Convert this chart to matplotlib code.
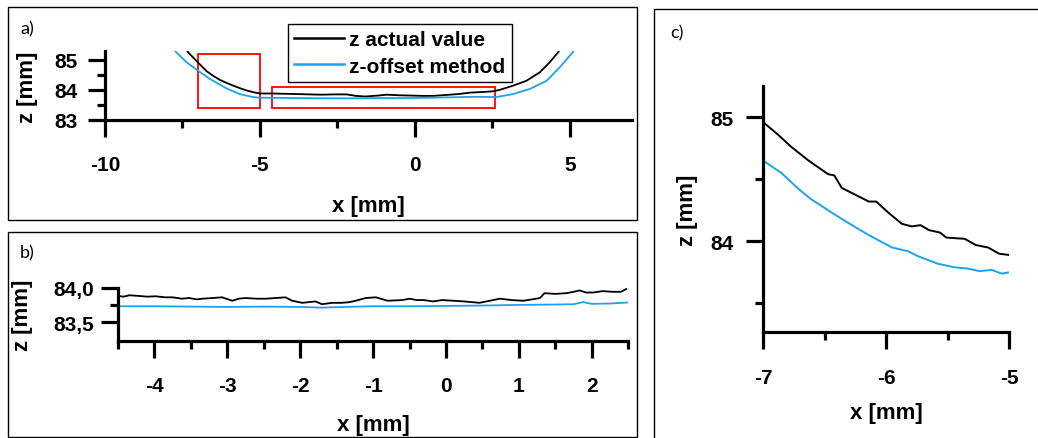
import matplotlib
matplotlib.use("Agg")
import matplotlib.pyplot as plt
from matplotlib.patches import Rectangle
from matplotlib.ticker import MultipleLocator, FixedLocator, FixedFormatter

# ---------------- data ----------------
# panel a: full profile
a_black_x = [-7.45, -7.31, -6.99, -6.72, -6.50, -6.29, -6.05, -5.86, -5.63, -5.43, -5.20, -5.0,
             -4.6, -4.2, -3.8, -3.4, -3.0, -2.6, -2.2, -1.9, -1.6, -1.2, -0.9, -0.5, -0.1,
             0.3, 0.6, 1.0, 1.4, 1.8, 2.2, 2.5, 2.74, 3.17, 3.6, 4.03, 4.35, 4.62, 4.70]
a_black_z = [85.45, 85.24, 84.90, 84.62, 84.46, 84.33, 84.22, 84.14, 84.05, 83.98, 83.92, 83.88,
             83.88, 83.87, 83.86, 83.85, 83.84, 83.85, 83.85, 83.80, 83.78, 83.81, 83.84, 83.82, 83.81,
             83.80, 83.80, 83.83, 83.86, 83.91, 83.93, 83.95, 84.00, 84.14, 84.30, 84.58, 84.91, 85.24, 85.36]
a_blue_x = [-7.90, -7.69, -7.36, -6.99, -6.61, -6.08, -5.65, -5.22, -5.0, -4.0, -3.0, -2.0,
            -1.0, 0.0, 1.0, 2.0, 2.63, 3.17, 3.71, 4.25, 4.68, 5.09, 5.15]
a_blue_z = [85.50, 85.24, 84.91, 84.63, 84.36, 84.05, 83.86, 83.76, 83.74, 83.73, 83.72, 83.72,
            83.73, 83.73, 83.75, 83.77, 83.76, 83.86, 84.03, 84.30, 84.75, 85.24, 85.34]

# panel b: detail of the flat part
b_black_x = [-4.5, -4.42, -4.34, -4.21, -4.10, -3.98, -3.85, -3.75, -3.62, -3.52, -3.42, -3.34,
             -3.20, -3.07, -2.93, -2.84, -2.75, -2.60, -2.47, -2.33, -2.20, -2.11, -1.97, -1.88,
             -1.79, -1.70, -1.56, -1.43, -1.32, -1.24, -1.10, -0.96, -0.80, -0.60, -0.50, -0.40,
             -0.30, -0.18, -0.05, 0.10, 0.25, 0.46, 0.60, 0.74, 0.90, 1.06, 1.18, 1.29, 1.35,
             1.50, 1.65, 1.75, 1.83, 1.92, 2.02, 2.15, 2.29, 2.40, 2.47]
b_black_z = [83.88, 83.87, 83.89, 83.88, 83.87, 83.875, 83.86, 83.86, 83.84, 83.85, 83.83, 83.84,
             83.85, 83.86, 83.81, 83.84, 83.85, 83.84, 83.84, 83.85, 83.86, 83.81, 83.78, 83.79,
             83.80, 83.76, 83.78, 83.78, 83.79, 83.81, 83.85, 83.86, 83.81, 83.82, 83.84, 83.82,
             83.82, 83.80, 83.82, 83.81, 83.80, 83.78, 83.81, 83.84, 83.82, 83.81, 83.83, 83.85, 83.92,
             83.91, 83.92, 83.94, 83.96, 83.93, 83.93, 83.95, 83.94, 83.94, 83.98]
b_blue_x = [-4.5, -4.0, -3.5, -3.0, -2.5, -2.0, -1.7, -1.4, -1.0, -0.5, 0.0, 0.5, 1.0, 1.5,
            1.75, 1.88, 2.0, 2.25, 2.5]
b_blue_z = [83.73, 83.73, 83.725, 83.72, 83.725, 83.72, 83.71, 83.72, 83.73, 83.73, 83.735, 83.74,
            83.75, 83.755, 83.76, 83.79, 83.765, 83.77, 83.785]

# panel c: detail of the slope
c_black_x = [-7.0, -6.88, -6.77, -6.63, -6.47, -6.42, -6.36, -6.28, -6.14, -6.08, -5.98, -5.87,
             -5.79, -5.72, -5.65, -5.56, -5.51, -5.36, -5.27, -5.17, -5.08, -5.0]
c_black_z = [84.96, 84.86, 84.76, 84.65, 84.54, 84.53, 84.43, 84.39, 84.32, 84.32, 84.23, 84.14,
             84.12, 84.13, 84.09, 84.07, 84.03, 84.02, 83.97, 83.95, 83.90, 83.89]
c_blue_x = [-7.0, -6.85, -6.71, -6.61, -6.44, -6.31, -6.14, -5.95, -5.82, -5.74, -5.58, -5.44,
            -5.33, -5.24, -5.14, -5.06, -5.0]
c_blue_z = [84.65, 84.55, 84.42, 84.34, 84.23, 84.15, 84.05, 83.95, 83.92, 83.88, 83.82, 83.79,
            83.78, 83.76, 83.77, 83.74, 83.75]

legend_labels = ["z actual value", "z-offset method"]
b_ytick_vals = [83.5, 84.0]
b_ytick_labels = ["83,5", "84,0"]

# ---------------- style ----------------
W, H = 1038, 439
BLUE = "#1ba3ee"
plt.rcParams["font.family"] = ["Liberation Sans Narrow", "Liberation Sans", "DejaVu Sans"]
plt.rcParams["font.weight"] = "bold"
plt.rcParams["axes.unicode_minus"] = False

fig = plt.figure(figsize=(W / 100, H / 100), dpi=100)


def px_box(x0, x1, ytop, ybot):
    return [x0 / W, 1 - ybot / H, (x1 - x0) / W, (ybot - ytop) / H]


def style_axes(ax, xpad, ypad):
    for s in ["top", "right"]:
        ax.spines[s].set_visible(False)
    for s in ["left", "bottom"]:
        ax.spines[s].set_linewidth(2.3)
    ax.tick_params(which="major", direction="out", length=12, width=2.3, labelsize=15)
    ax.tick_params(which="minor", direction="out", length=5.8, width=2.3)
    ax.tick_params(axis="x", which="major", pad=xpad)
    ax.tick_params(axis="y", which="major", pad=ypad)
    for lab in ax.get_xticklabels() + ax.get_yticklabels():
        lab.set_fontweight("bold")


# panel frames
for (x0, y0, x1, y1) in [(8, 8, 637, 221), (8, 233, 637, 438), (654, 10, 1045, 445)]:
    fig.patches.append(Rectangle((x0 / W, 1 - y1 / H), (x1 - x0) / W, (y1 - y0) / H,
                                 transform=fig.transFigure, fill=False,
                                 edgecolor="black", linewidth=1.0))

# ---------------- panel a ----------------
ax_a = fig.add_axes(px_box(105, 631.7, 52, 121))
ax_a.plot(a_black_x, a_black_z, color="black", lw=1.3)
ax_a.plot(a_blue_x, a_blue_z, color=BLUE, lw=1.3)
ax_a.set_xlim(-10, 7)
ax_a.set_ylim(83, 85.29)
ax_a.xaxis.set_major_locator(MultipleLocator(5))
ax_a.xaxis.set_minor_locator(MultipleLocator(2.5))
ax_a.yaxis.set_major_locator(MultipleLocator(1))
ax_a.yaxis.set_minor_locator(MultipleLocator(0.5))
style_axes(ax_a, 13, 8)
ax_a.add_patch(Rectangle((-7.0, 83.4), 2.0, 1.8, fill=False, edgecolor="red", lw=1.3, clip_on=False))
ax_a.add_patch(Rectangle((-4.6, 83.4), 7.2, 0.68, fill=False, edgecolor="red", lw=1.3, clip_on=False))
ax_a.set_xlabel("x [mm]", fontsize=16, fontweight="bold")
ax_a.set_ylabel("z [mm]", fontsize=16, fontweight="bold")
ax_a.xaxis.set_label_coords(368 / W, 1 - 196 / H, transform=fig.transFigure)
ax_a.yaxis.set_label_coords(38 / W, 1 - 87 / H, transform=fig.transFigure)
h1, = ax_a.plot([], [], color="black", lw=1.8)
h2, = ax_a.plot([], [], color=BLUE, lw=1.8)
leg = ax_a.legend([h1, h2], legend_labels, loc="upper left",
                  bbox_to_anchor=(288 / W, 1 - 25 / H), bbox_transform=fig.transFigure,
                  borderaxespad=0, borderpad=0.3, handlelength=2.4, handletextpad=0.25,
                  labelspacing=0.35, frameon=True, fancybox=False, framealpha=1,
                  prop=dict(family=["Liberation Sans Narrow", "Liberation Sans"], weight="bold", size=15))
leg.get_frame().set_edgecolor("black")
leg.get_frame().set_linewidth(1.0)

# ---------------- panel b ----------------
ax_b = fig.add_axes(px_box(117.8, 628.3, 288.7, 342.3))
ax_b.plot(b_black_x, b_black_z, color="black", lw=1.3)
ax_b.plot(b_blue_x, b_blue_z, color=BLUE, lw=1.3)
ax_b.set_xlim(-4.5, 2.5)
ax_b.set_ylim(83.22, 84.0)
ax_b.xaxis.set_major_locator(MultipleLocator(1))
ax_b.xaxis.set_minor_locator(MultipleLocator(0.5))
ax_b.yaxis.set_major_locator(FixedLocator(b_ytick_vals))
ax_b.yaxis.set_major_formatter(FixedFormatter(b_ytick_labels))
ax_b.yaxis.set_minor_locator(FixedLocator([83.75]))
style_axes(ax_b, 13, 5)
ax_b.set_xlabel("x [mm]", fontsize=16, fontweight="bold")
ax_b.set_ylabel("z [mm]", fontsize=16, fontweight="bold")
ax_b.xaxis.set_label_coords(373 / W, 1 - 415 / H, transform=fig.transFigure)
ax_b.yaxis.set_label_coords(33 / W, 1 - 315 / H, transform=fig.transFigure)

# ---------------- panel c ----------------
ax_c = fig.add_axes(px_box(763, 1009, 87, 333))
ax_c.plot(c_black_x, c_black_z, color="black", lw=1.4)
ax_c.plot(c_blue_x, c_blue_z, color=BLUE, lw=1.4)
ax_c.set_xlim(-7, -5)
ax_c.set_ylim(83.27, 85.25)
ax_c.xaxis.set_major_locator(MultipleLocator(1))
ax_c.xaxis.set_minor_locator(MultipleLocator(0.5))
ax_c.yaxis.set_major_locator(MultipleLocator(1))
ax_c.yaxis.set_minor_locator(MultipleLocator(0.5))
style_axes(ax_c, 14, 9)
ax_c.set_xlabel("x [mm]", fontsize=16, fontweight="bold")
ax_c.set_ylabel("z [mm]", fontsize=16, fontweight="bold")
ax_c.xaxis.set_label_coords(886 / W, 1 - 403 / H, transform=fig.transFigure)
ax_c.yaxis.set_label_coords(698 / W, 1 - 210 / H, transform=fig.transFigure)

# panel letters
for txt, x, y in [("a)", 20, 29), ("b)", 20, 253), ("c)", 670, 33)]:
    fig.text(x / W, 1 - y / H, txt, fontsize=13, fontweight="normal",
             family=["Lato", "DejaVu Sans"], ha="left", va="center")

fig.savefig("out.png", dpi=100)
